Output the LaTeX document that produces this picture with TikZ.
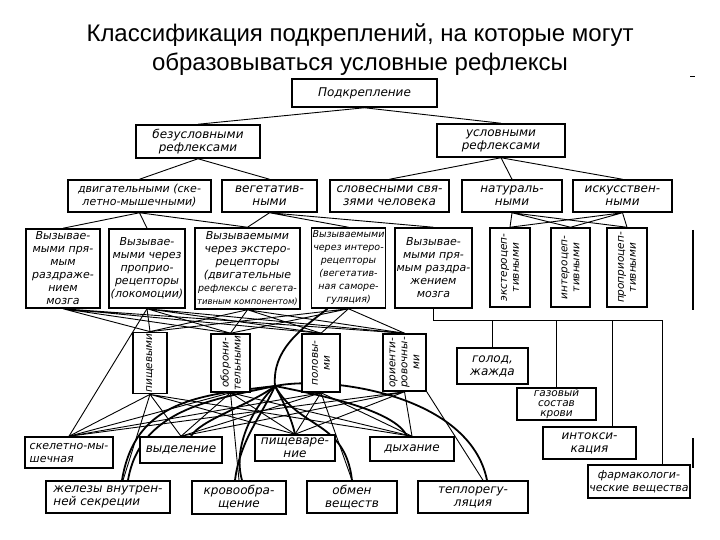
\documentclass[tikz,border=0pt]{standalone}
\usepackage{fontspec}
\setmainfont{Liberation Sans}
\newfontfamily\boxfont{DejaVu Sans}[ItalicFont={DejaVu Sans Oblique}]
\usetikzlibrary{backgrounds}

\begin{document}
\begin{tikzpicture}[
    x=1pt, y=-1pt,
    heading/.style={anchor=center, align=center, font=\fontsize{24}{29}\selectfont},
    box/.style={draw, line width=1.5pt, fill=white, inner sep=1pt, align=center, font=\boxfont\itshape\fontsize{12}{13}\selectfont},
    tallbox/.style={box, font=\boxfont\itshape\fontsize{11}{13}\selectfont},
    sidebox/.style={box, rotate=90, font=\boxfont\itshape\fontsize{10.5}{12}\selectfont},
    link/.style={line width=0.9pt},
    heavy/.style={line width=1.8pt}
    ]

\useasboundingbox (0,0) rectangle (720,540);

% Title
\node[heading] (Title) at (360,50) {Классификация подкреплений, на которые могут\\образовываться условные рефлексы};

% Top of the tree
\node[box, minimum width=145, minimum height=28] (podkr) at (364.5,93) {Подкрепление};
\node[box, minimum width=124, minimum height=33] (bezusl) at (198,141.5) {безусловными\\рефлексами};
\node[box, minimum width=128, minimum height=33] (usl) at (501,140.5) {условными\\рефлексами};

% Second level
\node[box, minimum width=143, minimum height=32, font=\boxfont\itshape\fontsize{11}{13}\selectfont] (dvig) at (139.5,196) {двигательными (ске-\\летно-мышечными)};
\node[box, minimum width=95, minimum height=32] (veget) at (269.5,196) {вегетатив-\\ными};
\node[box, minimum width=119, minimum height=32] (slov) at (389.5,196) {словесными свя-\\зями человека};
\node[box, minimum width=100, minimum height=32] (natur) at (512,196) {натураль-\\ными};
\node[box, minimum width=99, minimum height=32] (iskus) at (622.5,196) {искусствен-\\ными};

% How the reflexes are called
\node[tallbox, minimum width=74, minimum height=79] (vyz1) at (63,268.5) {Вызывае-\\мыми пря-\\мым\\раздраже-\\нием\\мозга};
\node[tallbox, minimum width=76, minimum height=79] (vyz2) at (147,268.5) {Вызывае-\\мыми через\\проприо-\\рецепторы\\(локомоции)};
\node[tallbox, minimum width=105, minimum height=81] (vyz3) at (247.5,268.5) {Вызываемыми\\через экстеро-\\рецепторы\\(двигательные\\{\fontsize{9.5}{13}\selectfont рефлексы с вегета-}\\{\fontsize{8.5}{13}\selectfont тивным компонентом)}};
\node[tallbox, minimum width=73, minimum height=80, font=\boxfont\itshape\fontsize{9.5}{13}\selectfont] (vyz4) at (348.5,268) {Вызываемыми\\через интеро-\\рецепторы\\(вегетатив-\\ная саморе-\\гуляция)};
\node[tallbox, minimum width=77, minimum height=80] (vyz5) at (433.5,268) {Вызывае-\\мыми пря-\\мым раздра-\\жением\\мозга};

% Receptor kinds
\node[sidebox, minimum width=79, minimum height=40] (extero) at (510,267.5) {экстероцеп-\\тивными};
\node[sidebox, minimum width=79, minimum height=39] (intero) at (570.5,267.5) {интероцеп-\\тивными};
\node[sidebox, minimum width=79, minimum height=40] (proprio) at (627,267.5) {проприоцеп-\\тивными};

% Biological kinds
\node[sidebox, minimum width=58, minimum height=34] (pishch) at (150,363) {пищевыми};
\node[sidebox, minimum width=58, minimum height=39] (obor) at (230.5,363) {оборони-\\тельными};
\node[sidebox, minimum width=58, minimum height=38] (polov) at (321,363) {половы-\\ми};
\node[sidebox, minimum width=57, minimum height=43] (orient) at (404.5,362.5) {ориенти-\\ровочны-\\ми};

% Inner states
\node[box, minimum width=71, minimum height=36] (golod) at (492.5,366) {голод,\\жажда};
\node[box, minimum width=79, minimum height=32, font=\boxfont\itshape\fontsize{10.5}{10}\selectfont] (gaz) at (556.5,404) {газовый\\состав\\крови};
\node[box, minimum width=93, minimum height=32] (intox) at (589.5,443) {интокси-\\кация};
\node[box, minimum width=102, minimum height=33, font=\boxfont\itshape\fontsize{11}{13}\selectfont] (farm) at (639,481.5) {фармакологи-\\ческие вещества};

% Effectors
\node[box, minimum width=88, minimum height=31, align=left, font=\boxfont\itshape\fontsize{11}{13}\selectfont] (skelet) at (69,452.5) {скелетно-мы-\\шечная};
\node[box, minimum width=82, minimum height=26] (vydel) at (181,450) {выделение};
\node[box, minimum width=80, minimum height=26] (pishchevar) at (295,448) {пищеваре-\\ние};
\node[box, minimum width=84, minimum height=24] (dykh) at (412,449) {дыхание};
\node[box, minimum width=124, minimum height=32, align=left] (zhelez) at (108,497) {железы внутрен-\\ней секреции};
\node[box, minimum width=94, minimum height=33] (krovo) at (239,497.5) {кровообра-\\щение};
\node[box, minimum width=90, minimum height=32] (obmen) at (352,497) {обмен\\веществ};
\node[box, minimum width=110, minimum height=32] (teplo) at (473,497) {теплорегу-\\ляция};

\coordinate (bus west) at (433.5,320);
\coordinate (bus tap) at (612,320);
\coordinate (bus east) at (662,320);
\coordinate (veg hub) at (275,386);

\begin{scope}[on background layer]
% Tree links
\draw[link] (podkr.south) -- (bezusl.north);
\draw[link] (podkr.south) -- (usl.north);
\draw[link] (bezusl.south) -- (dvig.north);
\draw[link] (bezusl.south) -- (veget.north);
\draw[link] (usl.south) -- (slov.north);
\draw[link] (usl.south) -- (natur.north);
\draw[link] (usl.south) -- (iskus.north);

\draw[link] (dvig.south) -- (vyz1.north) (dvig.south) -- (vyz2.north) (dvig.south) -- (vyz3.north);
\draw[link] (veget.south) -- (vyz3.north) (veget.south) -- (vyz4.north) (veget.south) -- (vyz5.north);

\draw[link] (natur.south) -- (extero.east) (natur.south) -- (intero.east) (natur.south) -- (proprio.east);
\draw[link] (iskus.south) -- (extero.east) (iskus.south) -- (intero.east) (iskus.south) -- (proprio.east);

% Right column
\draw[link] (vyz5.south) -- (bus west) -- (bus east) -- (bus east |- farm.north);
\draw[link] (golod.north) -- (golod.north |- bus west);
\draw[link] (gaz.north) -- (gaz.north |- bus west);
\draw[link] (bus tap) -- (bus tap |- intox.north);

% Calls to kinds
\draw[link] (vyz1.south) -- (pishch.east) (vyz1.south) -- (obor.east) (vyz1.south) -- (polov.east) (vyz1.south) -- (orient.east);
\draw[link] (vyz2.south) -- (pishch.east) (vyz2.south) -- (obor.east) (vyz2.south) -- (polov.east) (vyz2.south) -- (orient.east);
\draw[link] (vyz3.south) -- (pishch.east) (vyz3.south) -- (obor.east) (vyz3.south) -- (polov.east) (vyz3.south) -- (orient.east);
\draw[link] (vyz4.south) -- (pishch.east) (vyz4.south) -- (obor.east) (vyz4.south) -- (polov.east) (vyz4.south) -- (orient.east);
\draw[link] (vyz2.south) -- (skelet.north);

% Kinds to effectors
\draw[link] (pishch.west) -- (skelet.north) (pishch.west) -- (vydel.north) (pishch.west) -- (pishchevar.north) (pishch.west) -- (dykh.north);
\draw[link] (obor.west) -- (skelet.north) (obor.west) -- (vydel.north) (obor.west) -- (pishchevar.north) (obor.west) -- (dykh.north);
\draw[link] (polov.west) -- (skelet.north) (polov.west) -- (vydel.north) (polov.west) -- (pishchevar.north) (polov.west) -- (dykh.north);
\draw[link] (orient.west) -- (skelet.north) (orient.west) -- (vydel.north) (orient.west) -- (pishchevar.north) (orient.west) -- (dykh.north);
\draw[link] (pishch.west) -- ([xshift=15pt]zhelez.north);
\draw[link] (obor.west) -- (krovo.north);
\draw[link] (polov.west) -- (obmen.north);
\draw[link] (orient.south west) -- ([xshift=10pt]teplo.north);

% Vegetative self-regulation
\draw[heavy] ([xshift=-21pt]vyz4.south) .. controls (300,330) and (272,350) .. (veg hub);
\draw[heavy] (veg hub) .. controls (200,395) and (135,400) .. ([xshift=14pt]zhelez.north);
\draw[heavy] (veg hub) .. controls (210,400) and (140,410) .. ([xshift=20pt]zhelez.north);
\draw[heavy] (veg hub) .. controls (262,415) and (240,440) .. ([xshift=-4pt]krovo.north);
\draw[heavy] (veg hub) .. controls (255,405) and (232,445) .. ([xshift=3pt]krovo.north);
\draw[heavy] (veg hub) .. controls (285,405) and (292,420) .. (pishchevar.north);
\draw[heavy] (veg hub) .. controls (300,430) and (345,420) .. (obmen.north);
\draw[heavy] (veg hub) .. controls (320,395) and (395,410) .. ([xshift=-5pt]dykh.north);
\draw[heavy] (veg hub) .. controls (330,375) and (470,395) .. ([xshift=14pt]teplo.north);
\draw[heavy] (veg hub) .. controls (250,405) and (200,420) .. ([xshift=10pt]vydel.north);
\end{scope}

% page edge
\draw[line width=2pt] (693,230) -- (693,310);
\draw[line width=2pt] (693,438) -- (693,468);
\draw[line width=1pt] (690,77) -- (695,77);

\end{tikzpicture}
\end{document}
